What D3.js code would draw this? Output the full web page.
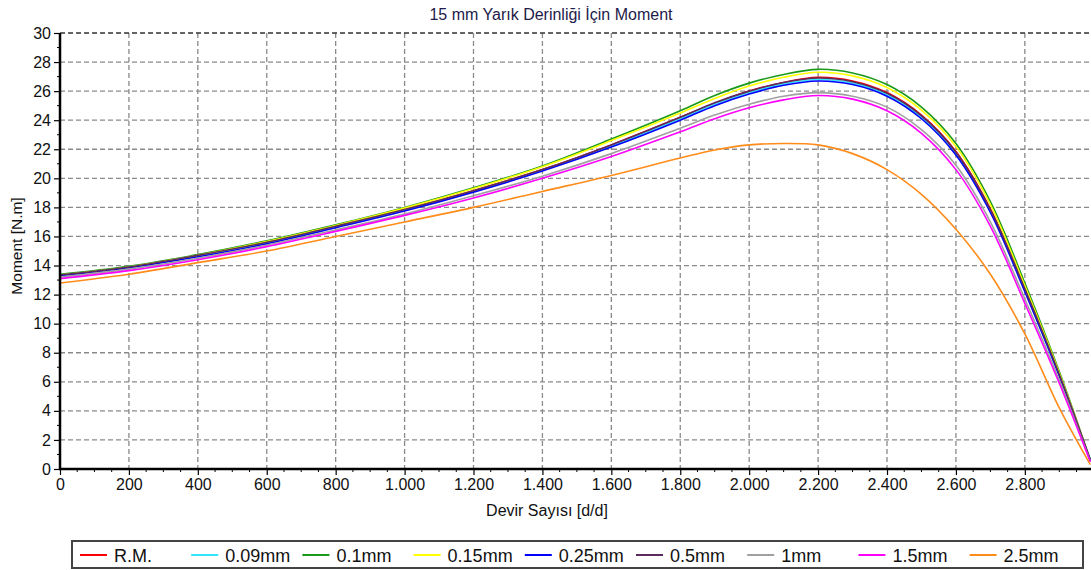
<!DOCTYPE html>
<html><head><meta charset="utf-8">
<script src="https://cdn.jsdelivr.net/npm/d3@7"></script>
<style>body{margin:0;background:#fff;}svg{display:block;font-family:"Liberation Sans",Arial,sans-serif;}</style>
</head><body>
<svg id="c" width="1091" height="570"></svg>
<script>
const rpm = [0,200,400,600,800,1000,1200,1400,1600,1800,1900,2000,2100,2200,2300,2400,2500,2600,2700,2800,2900,2990];
const seriesNames = ["R.M.","0.09mm","0.1mm","0.15mm","0.25mm","0.5mm","1mm","1.5mm","2.5mm"];
const seriesColors = ["#ff0000","#33e6ff","#1a9a1a","#ffff00","#0000ff","#5c2a5c","#a0a0a0","#ff00ff","#ff8c1a"];
const rm     = [13.35,13.9,14.7,15.6,16.7,17.85,19.15,20.6,22.3,24.2,25.15,26.0,26.6,26.95,26.7,25.9,24.35,21.85,17.9,12.4,6.5,0.6];
const d009   = [13.3,13.85,14.65,15.55,16.65,17.8,19.1,20.55,22.2,24.1,25.1,25.9,26.5,26.8,26.55,25.75,24.2,21.7,17.75,12.3,6.4,0.6];
const d010   = [13.4,13.95,14.75,15.7,16.8,18.0,19.35,20.85,22.7,24.65,25.7,26.55,27.15,27.5,27.25,26.45,24.9,22.4,18.4,12.8,6.7,0.6];
const d015   = [13.35,13.9,14.7,15.65,16.75,17.95,19.3,20.8,22.6,24.5,25.5,26.35,26.95,27.3,27.05,26.25,24.7,22.2,18.2,12.6,6.6,0.6];
const d025   = [13.3,13.85,14.6,15.5,16.6,17.75,19.05,20.5,22.15,24.0,25.0,25.8,26.4,26.7,26.45,25.65,24.1,21.6,17.65,12.2,6.4,0.6];
const d050   = [13.35,13.9,14.7,15.6,16.7,17.85,19.15,20.6,22.3,24.2,25.2,26.0,26.6,26.9,26.65,25.85,24.3,21.8,17.85,12.4,6.5,0.6];
const d100   = [13.2,13.75,14.5,15.4,16.45,17.55,18.8,20.15,21.7,23.45,24.35,25.1,25.65,25.9,25.65,24.9,23.35,20.9,17.0,11.7,6.1,0.5];
const d150   = [13.1,13.65,14.4,15.3,16.35,17.45,18.65,20.0,21.5,23.2,24.1,24.85,25.4,25.7,25.45,24.65,23.1,20.6,16.7,11.4,5.9,0.5];
const d250   = [12.8,13.4,14.2,15.0,16.0,17.0,18.0,19.1,20.2,21.4,21.95,22.3,22.4,22.3,21.7,20.6,18.9,16.5,13.4,9.3,4.2,0.3];
const seriesValues = [rm,d009,d010,d015,d025,d050,d100,d150,d250];
const xTicks = [0,200,400,600,800,1000,1200,1400,1600,1800,2000,2200,2400,2600,2800];
const yTicks = [0,2,4,6,8,10,12,14,16,18,20,22,24,26,28,30];
const title = "15 mm Yarık Derinliği İçin Moment";
const xTitle = "Devir Sayısı [d/d]";
const yTitle = "Moment [N.m]";

const svg = d3.select("#c");
const L = 60, R = 1091, T = 33, B = 469;
const x = d3.scaleLinear().domain([0, 2992]).range([L, R]);
const y = d3.scaleLinear().domain([0, 30]).range([B, T]);
const fmt = v => d3.format(",")(v).replace(/,/g, ".");

// grid
const grid = svg.append("g");
grid.selectAll("line.v").data(xTicks.filter(d => d > 0)).join("line")
  .attr("x1", d => x(d)).attr("x2", d => x(d)).attr("y1", T).attr("y2", B)
  .attr("stroke", "#8a8a8a").attr("stroke-width", 1.3).attr("stroke-dasharray", "5,3");
grid.selectAll("line.h").data(yTicks.filter(d => d > 0 && d < 30)).join("line")
  .attr("x1", L).attr("x2", R).attr("y1", d => y(d)).attr("y2", d => y(d))
  .attr("stroke", "#8a8a8a").attr("stroke-width", 1.3).attr("stroke-dasharray", "5,3");
grid.append("line").attr("x1", L).attr("x2", R).attr("y1", y(30)).attr("y2", y(30))
  .attr("stroke", "#333").attr("stroke-width", 1.6).attr("stroke-dasharray", "5,3");

// lines
svg.append("clipPath").attr("id", "clip").append("rect")
  .attr("x", L).attr("y", T - 2).attr("width", R - L).attr("height", B - T + 2);
const line = d3.line().x((d, i) => x(rpm[i])).y(d => y(d)).curve(d3.curveCatmullRom.alpha(0.5));
const lg = svg.append("g").attr("clip-path", "url(#clip)");
seriesValues.forEach((vals, k) => {
  lg.append("path").attr("d", line(vals)).attr("fill", "none")
    .attr("stroke", seriesColors[k]).attr("stroke-width", 1.6);
});

// axes
const xAxis = d3.axisBottom(x).tickValues(xTicks).tickFormat(fmt).tickSize(6).tickPadding(4);
const gx = svg.append("g").attr("transform", `translate(0,${B})`).call(xAxis);
gx.select(".domain").remove();
gx.selectAll("text").attr("font-size", 16).attr("fill", "#111").attr("font-family", "Liberation Sans, Arial, sans-serif");
gx.selectAll(".tick line").attr("stroke", "#000").attr("stroke-width", 1.2);
const xMinor = d3.range(0, 2992, 50).filter(v => v % 200 !== 0);
svg.append("g").selectAll("line").data(xMinor).join("line")
  .attr("x1", d => x(d)).attr("x2", d => x(d)).attr("y1", B).attr("y2", B + 3)
  .attr("stroke", "#000").attr("stroke-width", 1);

const yAxis = d3.axisLeft(y).tickValues(yTicks).tickSize(6).tickPadding(3);
const gy = svg.append("g").attr("transform", `translate(${L},0)`).call(yAxis);
gy.select(".domain").remove();
gy.selectAll("text").attr("font-size", 16).attr("fill", "#111").attr("font-family", "Liberation Sans, Arial, sans-serif");
gy.selectAll(".tick line").attr("stroke", "#000").attr("stroke-width", 1.2);
const yMinor = d3.range(1, 30, 2);
svg.append("g").selectAll("line").data(yMinor).join("line")
  .attr("x1", L - 3).attr("x2", L).attr("y1", d => y(d)).attr("y2", d => y(d))
  .attr("stroke", "#000").attr("stroke-width", 1);

svg.append("line").attr("x1", L).attr("x2", L).attr("y1", T).attr("y2", B + 1)
  .attr("stroke", "#000").attr("stroke-width", 2.5);
svg.append("line").attr("x1", L - 1).attr("x2", R).attr("y1", B).attr("y2", B)
  .attr("stroke", "#000").attr("stroke-width", 2.5);

// titles
svg.append("text").attr("x", 551).attr("y", 20).attr("text-anchor", "middle")
  .attr("font-size", 16).attr("fill", "#1e1a4a").text(title);
svg.append("text").attr("x", 547).attr("y", 516).attr("text-anchor", "middle")
  .attr("font-size", 16).attr("fill", "#111").text(xTitle);
svg.append("text").attr("transform", "translate(22,246) rotate(-90)").attr("text-anchor", "middle")
  .attr("font-size", 15.5).attr("fill", "#111").text(yTitle);

// legend
svg.append("rect").attr("x", 72).attr("y", 541).attr("width", 1011).attr("height", 27)
  .attr("fill", "#fff").attr("stroke", "#444").attr("stroke-width", 2);
const leg = svg.append("g").selectAll("g").data(seriesNames).join("g")
  .attr("transform", (d, i) => `translate(${80 + i * 111.2},555)`);
leg.append("line").attr("x1", 0).attr("x2", 27).attr("y1", 0).attr("y2", 0)
  .attr("stroke", (d, i) => seriesColors[i]).attr("stroke-width", 2);
leg.append("text").attr("x", 34).attr("y", 6.5).attr("font-size", 18).attr("fill", "#111").text(d => d);
</script>
</body></html>
